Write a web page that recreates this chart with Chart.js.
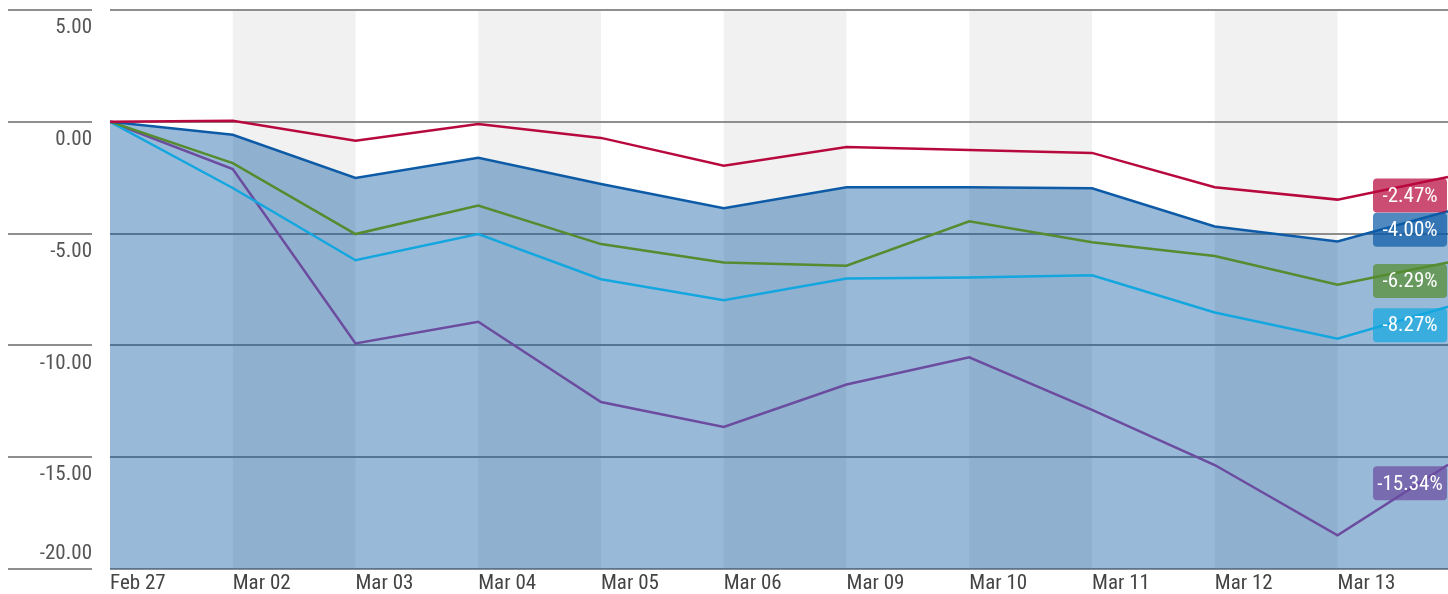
<!DOCTYPE html>
<html>
<head>
<meta charset="utf-8">
<script src="https://cdn.jsdelivr.net/npm/chart.js@4.4.1/dist/chart.umd.min.js"></script>
<style>
  html, body { margin: 0; padding: 0; background: #fff; }
  #wrap { width: 1448px; height: 594px; position: relative; }
</style>
</head>
<body>
<div id="wrap"><canvas id="chart"></canvas></div>
<script>
// data (percent change since Feb 27)
const xLabels = ['Feb 27', 'Mar 02', 'Mar 03', 'Mar 04', 'Mar 05', 'Mar 06', 'Mar 09', 'Mar 10', 'Mar 11', 'Mar 12', 'Mar 13'];
const xPos = [0, 1, 2, 3, 4, 5, 6, 7, 8, 9, 10, 10.9]; // last point is the latest (intraday) value
const redVals    = [0, 0.05, -0.85, -0.10, -0.72, -1.96, -1.13, -1.26, -1.39, -2.93, -3.48, -2.47];
const blueVals   = [0, -0.58, -2.51, -1.61, -2.78, -3.87, -2.93, -2.93, -2.97, -4.68, -5.35, -4.00];
const greenVals  = [0, -1.85, -5.02, -3.75, -5.47, -6.29, -6.44, -4.45, -5.39, -6.00, -7.29, -6.29];
const cyanVals   = [0, -2.96, -6.19, -5.02, -7.04, -7.98, -7.01, -6.96, -6.86, -8.53, -9.70, -8.27];
const purpleVals = [0, -2.11, -9.91, -8.94, -12.53, -13.65, -11.75, -10.53, -12.88, -15.35, -18.49, -15.34];
const yMin = -20, yMax = 5, yStep = 5;

// the original uses a condensed face; find the closest one that is installed
const FS = 21;
function pickFont() {
  const c = document.createElement('canvas').getContext('2d');
  const sample = 'Mar 12';
  const target = 53;
  const fams = ['Liberation Sans Narrow', 'Arial Narrow', 'DejaVu Sans Condensed', 'Roboto Condensed',
                'Open Sans Condensed', 'Noto Sans', 'Open Sans', 'Roboto', 'Liberation Sans'];
  const stretches = ['normal', 'semi-condensed', 'condensed', 'extra-condensed'];
  c.font = FS + 'px monospace';
  const mono = c.measureText(sample).width;
  let best = { fam: 'Liberation Sans', stretch: 'normal', d: 1e9 };
  fams.forEach(f => {
    stretches.forEach(s => {
      c.fontStretch = s;
      c.font = FS + 'px "' + f + '", monospace';
      const w = c.measureText(sample).width;
      c.fontStretch = 'normal';
      if (Math.abs(w - mono) < 0.01) return; // not installed
      const d = Math.abs(w - target);
      if (d < best.d - 0.5) best = { fam: f, stretch: s, d };
    });
  });
  return best;
}
const picked = pickFont();
const FONT = '"' + picked.fam + '", sans-serif';

const pts = vals => vals.map((v, i) => ({ x: xPos[i], y: v }));

// keep the chosen stretch on the context (it resets when the canvas resizes)
const stretchPlugin = {
  id: 'stretch',
  beforeUpdate(chart) { chart.ctx.fontStretch = picked.stretch; },
  beforeLayout(chart) { chart.ctx.fontStretch = picked.stretch; },
  beforeDraw(chart) { chart.ctx.fontStretch = picked.stretch; }
};

// grey bands behind every second day
const bandPlugin = {
  id: 'bands',
  beforeDraw(chart) {
    const { ctx, chartArea: a, scales: { x } } = chart;
    ctx.save();
    ctx.fillStyle = '#f1f1f1';
    for (let i = 1; i < xLabels.length - 1; i += 2) {
      const x0 = x.getPixelForValue(i), x1 = x.getPixelForValue(i + 1);
      ctx.fillRect(x0, a.top, x1 - x0, a.bottom - a.top);
    }
    ctx.restore();
  }
};

// coloured value tags at the right end of every line
const endTags = {
  id: 'endTags',
  afterDatasetsDraw(chart) {
    const { ctx, chartArea: a } = chart;
    const w = 74, h = 34;
    ctx.save();
    chart.data.datasets.forEach((ds, i) => {
      const meta = chart.getDatasetMeta(i);
      const pt = meta.data[meta.data.length - 1];
      const val = ds.data[ds.data.length - 1].y;
      const top = pt.y + 1.5;
      ctx.globalAlpha = 0.72;
      ctx.fillStyle = ds.borderColor;
      ctx.beginPath();
      ctx.roundRect(a.right - w - 1, top, w, h, 4);
      ctx.fill();
      ctx.globalAlpha = 1;
      ctx.fillStyle = '#fff';
      ctx.font = FS + 'px ' + FONT;
      ctx.textAlign = 'center';
      ctx.textBaseline = 'middle';
      ctx.fillText(val.toFixed(2) + '%', a.right - w / 2 - 1, top + h / 2 + 1);
    });
    ctx.restore();
  }
};

const line = (vals, color, fill) => ({
  data: pts(vals),
  borderColor: color,
  borderWidth: 2.5,
  pointRadius: 0,
  tension: 0,
  fill: fill ? 'start' : false,
  backgroundColor: 'rgba(0, 80, 160, 0.4)'
});

new Chart(document.getElementById('chart'), {
  type: 'line',
  data: {
    datasets: [
      line(redVals, '#b8093f'),
      line(blueVals, '#0d5ba6', true),
      line(greenVals, '#548c2f'),
      line(cyanVals, '#14a7df'),
      line(purpleVals, '#6b4c9f')
    ]
  },
  options: {
    responsive: true,
    maintainAspectRatio: false,
    animation: false,
    layout: { padding: { top: 10, right: 0, left: 0, bottom: 0 } },
    plugins: {
      legend: { display: false },
      tooltip: { enabled: false },
      filler: { drawTime: 'beforeDatasetsDraw' }
    },
    scales: {
      x: {
        type: 'linear',
        min: 0,
        max: xPos[xPos.length - 1],
        grid: { display: false, drawTicks: false },
        border: { display: false },
        afterBuildTicks: s => { s.ticks = xLabels.map((_, i) => ({ value: i })); },
        afterFit: s => { s.height = 25; s.paddingLeft = 0; s.paddingRight = 0; },
        ticks: {
          autoSkip: false,
          maxRotation: 0,
          align: 'start',
          padding: 2,
          color: '#444',
          font: { family: FONT, size: FS },
          callback: v => xLabels[v]
        }
      },
      y: {
        min: yMin,
        max: yMax,
        afterFit: s => { s.width = 110; s.paddingTop = 0; s.paddingBottom = 0; },
        grid: {
          color: '#8e8e8e',
          lineWidth: 2,
          drawTicks: true,
          tickLength: 102,
          tickBorderDash: [84, 200]
        },
        border: { display: false },
        ticks: {
          stepSize: yStep,
          autoSkip: false,
          padding: -84,
          color: '#555',
          font: c => ({ family: FONT, size: FS, lineHeight: (c.tick && c.tick.value === yMin) ? 15 / FS : 18 / FS }),
          callback: v => v === yMin ? [v.toFixed(2), '', ''] : ['', '', v.toFixed(2)]
        }
      }
    }
  },
  plugins: [stretchPlugin, bandPlugin, endTags]
});
</script>
</body>
</html>
